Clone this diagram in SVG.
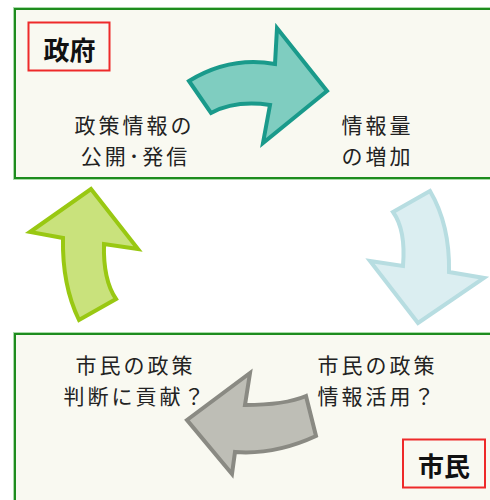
<svg xmlns="http://www.w3.org/2000/svg" width="490" height="500" viewBox="0 0 490 500">
<style>
.box{fill:#f9f9f1;stroke:#1e8c1e;stroke-width:2}
.glow{fill:none;stroke:#a9dba9;stroke-width:4}
.lbl{fill:none;stroke:#ee2a2a;stroke-width:2}
.t{font-family:"Noto Sans CJK JP","Noto Sans CJK SC",sans-serif;font-size:21px;letter-spacing:3px;fill:#222;text-anchor:middle}
.b{font-family:"Noto Sans CJK JP","Noto Sans CJK SC",sans-serif;font-size:26px;font-weight:bold;fill:#111;text-anchor:middle}
.arr{stroke-width:4;stroke-linejoin:miter}
</style>
<rect width="490" height="500" fill="#ffffff"/>
<g id="gov">
<rect class="glow" x="15" y="9" width="490" height="169"/>
<rect class="box" x="15" y="9" width="490" height="169"/>
<rect class="lbl" x="28.5" y="22.5" width="81" height="48"/>
<text class="b" x="69.5" y="60">政府</text>
<text class="t" x="134.5" y="132.5">政策情報の</text>
<text class="t" x="135.5" y="163.5">公開･発信</text>
<text class="t" x="377.5" y="132.5">情報量</text>
<text class="t" x="377.5" y="163.5">の増加</text>
</g>
<g id="citizen">
<rect class="glow" x="15" y="334" width="490" height="180"/>
<rect class="box" x="15" y="334" width="490" height="180"/>
<rect class="lbl" x="403" y="439.5" width="82" height="48"/>
<text class="b" x="444" y="476">市民</text>
<text class="t" x="135.5" y="372.5">市民の政策</text>
<text class="t" x="135.5" y="403.5">判断に貢献？</text>
<text class="t" x="377.5" y="372.5">市民の政策</text>
<text class="t" x="377.5" y="403.5">情報活用？</text>
</g>
<g id="connectors">
<path id="arrow-top" class="arr" fill="#7fcdc0" stroke="#1a9a8b" d="M189,81 Q230,56 275,64 L277,28 L327,91 L263,143 L270,105 Q235,100 211,113 Z"/>
<path id="arrow-right" class="arr" fill="#dbeef1" stroke="#b7dde1" d="M393,212 L430,191 Q450,225 449,272 L484,278 L418,323 L370,261 L403,266 Q406,230 393,212 Z"/>
<path id="arrow-bottom" class="arr" fill="#bebeb6" stroke="#8a8a83" d="M306,396 Q285,405 245,405 L250,373 L187,420 L232,474 L235,452 Q275,455 316,436 Z"/>
<path id="arrow-left" class="arr" fill="#c9e27c" stroke="#99c812" d="M91,189 L138,249 L104,244 Q103,280 116,299 L79,320 Q62,285 63,238 L30,232 Z"/>
</g>
</svg>
